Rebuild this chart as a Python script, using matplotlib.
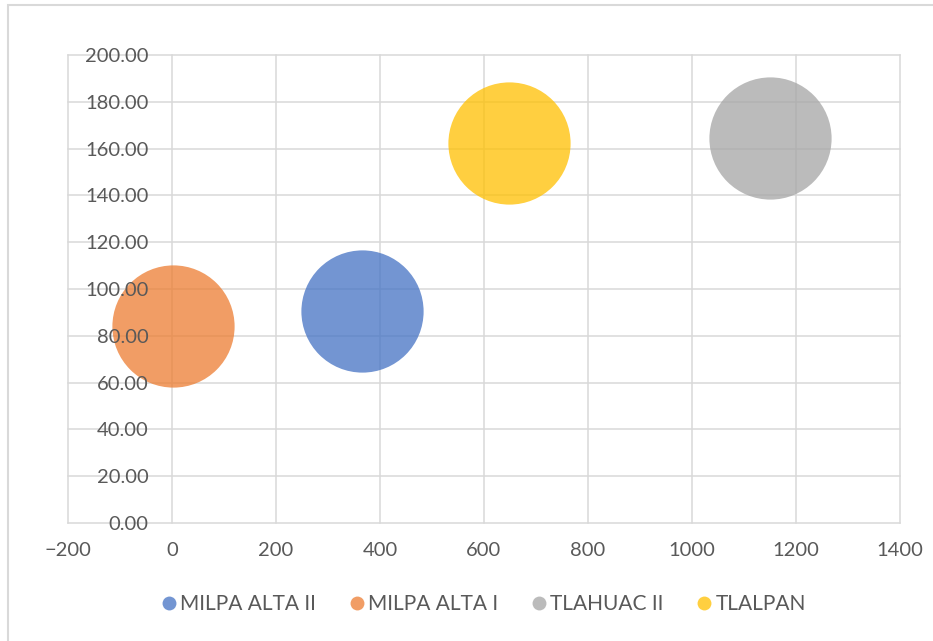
import matplotlib.pyplot as plt
from matplotlib.lines import Line2D
from matplotlib.patches import Rectangle

names = ["MILPA ALTA II", "MILPA ALTA I", "TLAHUAC II", "TLALPAN"]
x_vals = [365, 1, 1150, 649]
y_vals = [90.6, 84.2, 164.7, 162.2]
bubble_sizes = [100, 100, 100, 100]
colors = ["#4472C4", "#ED7D31", "#A5A5A5", "#FFC000"]
x_ticks = list(range(-200, 1401, 200))
y_ticks = list(range(0, 201, 20))

plt.rcParams['font.family'] = ['Lato', 'DejaVu Sans']
text_color = "#595959"
grid_color = "#D9D9D9"

fig = plt.figure(figsize=(9.33, 6.41), dpi=100)
pos = [0.0729, 0.1841, 0.8917, 0.7301]
ax = fig.add_axes(pos)

max_d = 88  # diameter of biggest bubble, points
for name, x, y, size, c in zip(names, x_vals, y_vals, bubble_sizes, colors):
    ax.scatter(x, y, s=max_d ** 2 * size / max(bubble_sizes), color=c,
               alpha=0.75, linewidths=0, zorder=2)

ax.set_xlim(-200, 1400)
ax.set_ylim(0, 200)
ax.set_xticks(x_ticks)
ax.set_yticks(y_ticks)
ax.set_axisbelow(True)
ax.grid(True, color=grid_color, lw=1.1)
for s in ax.spines.values():
    s.set_visible(False)
for gl in ax.get_xgridlines() + ax.get_ygridlines():
    gl.set_clip_on(False)
ax.tick_params(axis='x', length=0, pad=14, labelsize=14.5, labelcolor=text_color)
ax.tick_params(axis='y', length=0, labelleft=False)

# y labels sit next to the axis at x=0 and above the bubbles
lab = fig.add_axes(pos, sharex=ax, sharey=ax, frameon=False, zorder=5)
lab.patch.set_visible(False)
lab.spines['left'].set_position(('data', 0))
lab.tick_params(axis='x', bottom=False, labelbottom=False)
lab.tick_params(axis='y', length=0, pad=17, labelsize=14.5, labelcolor=text_color)
lab.yaxis.set_major_formatter(lambda v, p: f"{v:.2f}")

handles = [Line2D([], [], marker='o', ls='', color=c, alpha=0.75, markersize=10,
                  markeredgewidth=0) for c in colors]
leg = fig.legend(handles, names, loc='center', bbox_to_anchor=(0.517, 0.058), ncol=4,
                 frameon=False, fontsize=15, handletextpad=0.05, columnspacing=1.45,
                 handlelength=1.0)
for t in leg.get_texts():
    t.set_color(text_color)

fig.add_artist(Rectangle((8 / 933, -0.1), 1.2, 1.1 - 5 / 641, transform=fig.transFigure,
                         fill=False, edgecolor=grid_color, lw=1.5))

fig.savefig("out.png", dpi=100)
